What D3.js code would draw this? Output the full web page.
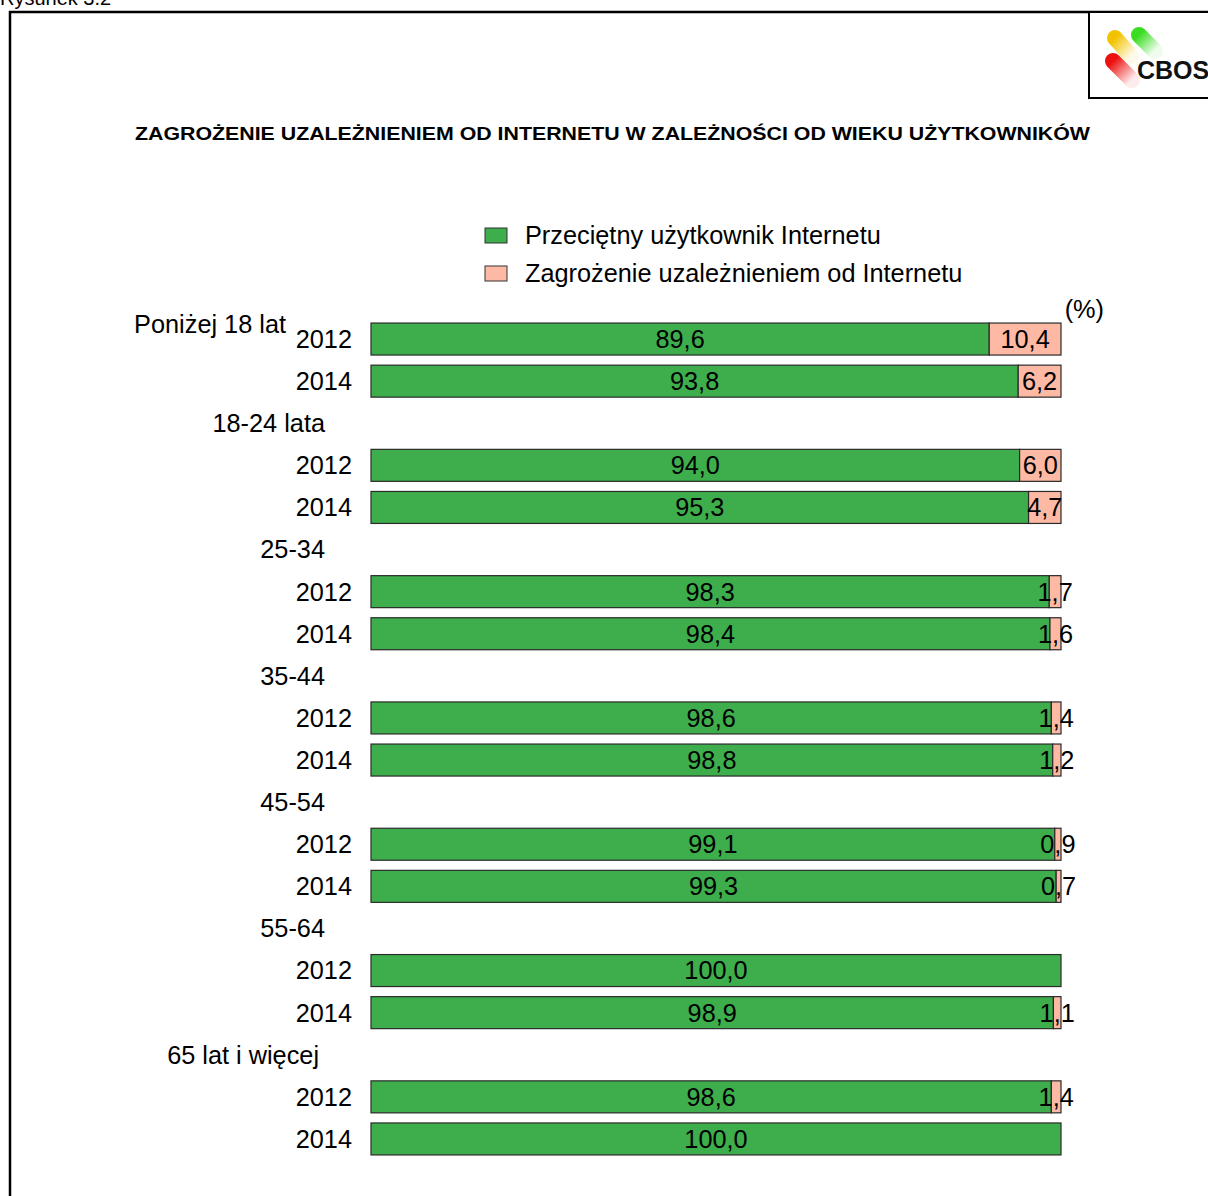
<!DOCTYPE html>
<html>
<head>
<meta charset="utf-8">
<script src="https://cdn.jsdelivr.net/npm/d3@7"></script>
<style>
  html, body { margin: 0; padding: 0; background: #fff; }
  svg { display: block; font-family: Arial, "Liberation Sans", sans-serif; }
</style>
</head>
<body>
<svg id="chart" width="1208" height="1196"></svg>
<script>
// Age groups and survey years
const groups = ["Poniżej 18 lat", "18-24 lata", "25-34", "35-44", "45-54", "55-64", "65 lat i więcej"];
const years = ["2012", "2014"];

// Share of typical internet users (%) per group, [2012, 2014]
const typicalUser = [
  [89.6, 93.8],
  [94.0, 95.3],
  [98.3, 98.4],
  [98.6, 98.8],
  [99.1, 99.3],
  [100.0, 98.9],
  [98.6, 100.0]
];
// Share at risk of internet addiction (%) per group, [2012, 2014]
const atRisk = [
  [10.4, 6.2],
  [6.0, 4.7],
  [1.7, 1.6],
  [1.4, 1.2],
  [0.9, 0.7],
  [0.0, 1.1],
  [1.4, 0.0]
];

const seriesNames = ["Przeciętny użytkownik Internetu", "Zagrożenie uzależnieniem od Internetu"];
const seriesColors = ["#3DAE4B", "#FDB9A4"];
const titleText = "ZAGROŻENIE UZALEŻNIENIEM OD INTERNETU W ZALEŻNOŚCI OD WIEKU UŻYTKOWNIKÓW";

const FS = 25.3; // body text size
const fmt = v => v.toFixed(1).replace(".", ",");

// Row layout: each group after the first gets its own header row
const rows = [];
groups.forEach((g, gi) => {
  if (gi > 0) rows.push({ key: "h" + gi, type: "header", group: g, gi });
  years.forEach((yr, yi) => rows.push({ key: g + "|" + yr, type: "bar", group: g, gi, yi, year: yr }));
});

const svg = d3.select("#chart");

// Page frame and caption
svg.append("text").attr("x", 0).attr("y", 5).attr("font-size", 20).attr("fill", "#000").text("Rysunek 3.2");
svg.append("rect").attr("x", 10).attr("y", 12).attr("width", 1400).attr("height", 1400)
  .attr("fill", "none").attr("stroke", "#000").attr("stroke-width", 2.5);

// Logo box
const logo = svg.append("g");
logo.append("rect").attr("x", 1089).attr("y", 12).attr("width", 200).attr("height", 86)
  .attr("fill", "#fff").attr("stroke", "#000").attr("stroke-width", 2);
const defs = svg.append("defs");
function pillGrad(id, c) {
  const gr = defs.append("linearGradient").attr("id", id)
    .attr("x1", "0%").attr("y1", "0%").attr("x2", "100%").attr("y2", "100%");
  gr.append("stop").attr("offset", "0%").attr("stop-color", c).attr("stop-opacity", 1);
  gr.append("stop").attr("offset", "100%").attr("stop-color", c).attr("stop-opacity", 0.08);
}
pillGrad("gY", "#f2c200");
pillGrad("gG", "#3add22");
pillGrad("gR", "#ec1010");
function pill(x1, y1, x2, y2, fill) {
  logo.append("line").attr("x1", x1).attr("y1", y1).attr("x2", x2).attr("y2", y2)
    .attr("stroke", fill).attr("stroke-width", 16).attr("stroke-linecap", "round");
}
pill(1115, 38, 1131, 56, "url(#gY)");
pill(1139, 35, 1155, 51, "url(#gG)");
pill(1113, 61, 1132, 80, "url(#gR)");
logo.append("text").attr("x", 1137).attr("y", 79).attr("font-size", 25).attr("font-weight", "bold")
  .attr("fill", "#111").text("CBOS");

// Title
svg.append("text").attr("x", 135).attr("y", 140)
  .attr("font-size", 19).attr("font-weight", "bold").attr("fill", "#000")
  .attr("textLength", 955).attr("lengthAdjust", "spacingAndGlyphs").text(titleText);

// Legend
const legend = svg.append("g");
seriesNames.forEach((name, i) => {
  const cy = 235 + i * 38;
  legend.append("rect").attr("x", 485).attr("y", cy - 7).attr("width", 22).attr("height", 15)
    .attr("fill", seriesColors[i]).attr("stroke", "#333").attr("stroke-width", 1);
  legend.append("text").attr("x", 525).attr("y", cy).attr("dy", "0.35em")
    .attr("font-size", FS).attr("fill", "#000").text(name);
});

// Scales
const x = d3.scaleLinear().domain([0, 100]).range([371, 1061]);
const y = d3.scaleBand().domain(rows.map(r => r.key)).range([318, 1160])
  .paddingInner(0.24).paddingOuter(0.12);

svg.append("text").attr("x", 1104).attr("y", 318).attr("text-anchor", "end")
  .attr("font-size", FS).attr("fill", "#000").text("(%)");

// Group headers
svg.append("text").attr("x", 286).attr("y", y(rows[0].key) + y.bandwidth() / 2 - 15).attr("dy", "0.35em")
  .attr("text-anchor", "end").attr("font-size", FS).attr("fill", "#000").text(groups[0]);
svg.selectAll("text.grp").data(rows.filter(r => r.type === "header")).join("text")
  .attr("class", "grp")
  .attr("x", r => r.gi === groups.length - 1 ? 319 : 325)
  .attr("y", r => y(r.key) + y.bandwidth() / 2).attr("dy", "0.35em")
  .attr("text-anchor", "end").attr("font-size", FS).attr("fill", "#000").text(r => r.group);

const barRows = rows.filter(r => r.type === "bar");

// Year labels
svg.selectAll("text.yr").data(barRows).join("text")
  .attr("class", "yr")
  .attr("x", 352).attr("y", r => y(r.key) + y.bandwidth() / 2).attr("dy", "0.35em")
  .attr("text-anchor", "end").attr("font-size", FS).attr("fill", "#000").text(r => r.year);

// Stacked bar segments
const segs = [];
barRows.forEach(r => {
  const a = typicalUser[r.gi][r.yi];
  const b = atRisk[r.gi][r.yi];
  segs.push({ key: r.key, s: 0, x0: 0, x1: a, v: a });
  if (b > 0) segs.push({ key: r.key, s: 1, x0: a, x1: a + b, v: b });
});

svg.selectAll("rect.seg").data(segs).join("rect")
  .attr("class", "seg")
  .attr("x", d => x(d.x0)).attr("y", d => y(d.key))
  .attr("width", d => x(d.x1) - x(d.x0)).attr("height", y.bandwidth())
  .attr("fill", d => seriesColors[d.s]).attr("stroke", "#2a2a2a").attr("stroke-width", 1.2);

svg.selectAll("text.val").data(segs).join("text")
  .attr("class", "val")
  .attr("x", d => (x(d.x0) + x(d.x1)) / 2).attr("y", d => y(d.key) + y.bandwidth() / 2).attr("dy", "0.35em")
  .attr("text-anchor", "middle").attr("font-size", FS).attr("fill", "#000").text(d => fmt(d.v));
</script>
</body>
</html>
